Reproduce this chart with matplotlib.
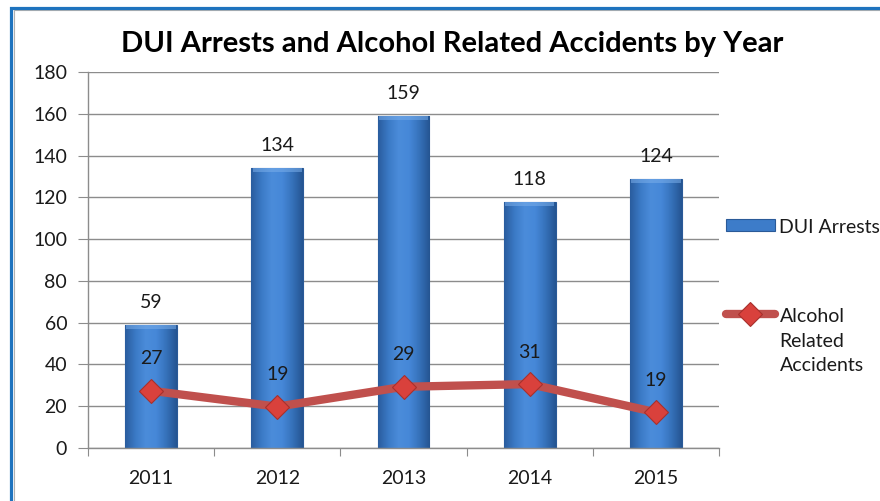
import numpy as np
import matplotlib
matplotlib.use("Agg")
import matplotlib.pyplot as plt
from matplotlib.patches import Rectangle
from matplotlib.offsetbox import HPacker
from matplotlib.colors import LinearSegmentedColormap

years = ["2011", "2012", "2013", "2014", "2015"]
dui_arrests = [59, 134, 159, 118, 129]
dui_labels = ["59", "134", "159", "118", "124"]
accidents = [27.4, 19.8, 29.3, 30.6, 17.1]
accident_labels = ["27", "19", "29", "31", "19"]
y_ticks = [0, 20, 40, 60, 80, 100, 120, 140, 160, 180]

plt.rcParams["font.family"] = ["Lato", "DejaVu Sans"]

W, H = 880, 501
FS = 14
fig = plt.figure(figsize = (W / 100., H / 100.), dpi = 100, facecolor = "white")

# plot area in pixels: x 88..719, y 72..448
ax = fig.add_axes([88. / W, 1 - 448. / H, (719. - 88.) / W, (448. - 72.) / H])

x = np.arange(len(years))
bar_w = 0.41
bar_cmap = LinearSegmentedColormap.from_list("bevel",
    ["#2a5d9f", "#3b7ac6", "#4b8cda", "#4688d8", "#3672bb", "#255592"])
bars = ax.bar(x, dui_arrests, width = bar_w, color = "#3d7cc9",
              edgecolor = "#2a5a98", linewidth = 0.8, zorder = 2,
              label = "DUI Arrests")
grad = np.linspace(0, 1, 64).reshape(1, -1)
for b in bars:
    bx, by = b.get_x(), b.get_y()
    bw, bh = b.get_width(), b.get_height()
    im = ax.imshow(grad, cmap = bar_cmap, aspect = "auto",
                   extent = (bx, bx + bw, by, by + bh), zorder = 2.1,
                   interpolation = "bicubic")
    im.set_clip_path(b)
    # light bevel on top
    ax.add_patch(Rectangle((bx + 0.01, by + bh - 2), bw - 0.02, 2,
                           facecolor = "#7aaeea", edgecolor = "none",
                           alpha = 0.55, zorder = 2.2))

line, = ax.plot(x, accidents, color = "#c0504d", linewidth = 6, zorder = 3,
                marker = "D", markersize = 12, markerfacecolor = "#d9413c",
                markeredgecolor = "#a8302c", markeredgewidth = 0.8,
                solid_capstyle = "round", label = "Alcohol\nRelated\nAccidents")

for xi, v, lab in zip(x, dui_arrests, dui_labels):
    ax.annotate(lab, (xi, v), xytext = (0, 16), textcoords = "offset points",
                ha = "center", va = "center", fontsize = FS, color = "#1a1a1a")
for xi, v, lab in zip(x, accidents, accident_labels):
    ax.annotate(lab, (xi, v), xytext = (0, 23), textcoords = "offset points",
                ha = "center", va = "center", fontsize = FS, color = "#1a1a1a",
                zorder = 4)

ax.set_xlim(-0.5, len(years) - 0.5)
ax.set_ylim(0, 180)
ax.set_yticks(y_ticks)
ax.tick_params(axis = "y", labelsize = FS, length = 7, color = "#8c8c8c",
               pad = 8, labelcolor = "#1a1a1a")
ax.yaxis.grid(True, color = "#8c8c8c", linewidth = 1)
ax.set_axisbelow(True)

# category ticks on boundaries, labels at centres
ax.set_xticks(np.arange(len(years) + 1) - 0.5)
ax.set_xticklabels([])
ax.set_xticks(x, minor = True)
ax.set_xticklabels(years, minor = True)
ax.tick_params(axis = "x", which = "major", length = 6, color = "#8c8c8c")
ax.tick_params(axis = "x", which = "minor", length = 0, pad = 16,
               labelsize = FS, labelcolor = "#1a1a1a")

for s in ["top", "right"]:
    ax.spines[s].set_visible(False)
for s in ["left", "bottom"]:
    ax.spines[s].set_color("#8c8c8c")
    ax.spines[s].set_linewidth(1)

leg = ax.legend(handles = [bars, line], loc = "upper left",
                bbox_to_anchor = (726. / W, 1 - 219. / H),
                bbox_transform = fig.transFigure, frameon = False,
                fontsize = FS, handlelength = 2.5, handleheight = 0.55,
                handletextpad = 0.25, labelspacing = 3.7, borderpad = 0,
                borderaxespad = 0)
for hp in leg.findobj(HPacker):
    hp.align = "top"
for t in leg.get_texts():
    t.set_linespacing(1.55)
    t.set_color("#1a1a1a")

fig.text(452. / W, 1 - 44. / H, "DUI Arrests and Alcohol Related Accidents by Year",
         ha = "center", va = "center", fontsize = 21, fontweight = "bold",
         color = "black")

# chart frame
fig.patches.append(Rectangle((14. / W, -0.1), 1.2, 1 - 10. / H + 0.1,
                             transform = fig.transFigure, fill = False,
                             edgecolor = "#b0b0b0", linewidth = 0.8))
fig.patches.append(Rectangle((10.5 / W, -0.1), 1.2, 1 - 7.5 / H + 0.1,
                             transform = fig.transFigure, fill = False,
                             edgecolor = "#1e73be", linewidth = 2.3))

fig.savefig("out.png", dpi = 100, facecolor = "white")
